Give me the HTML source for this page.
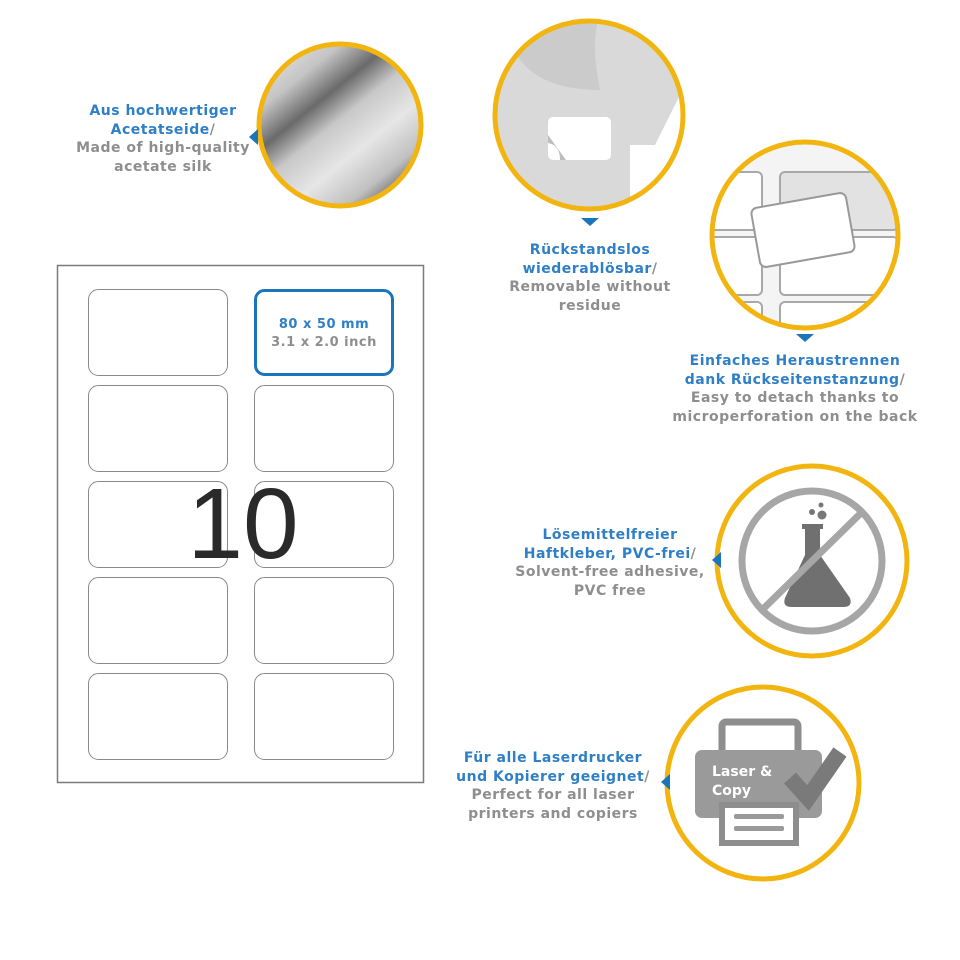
<!DOCTYPE html>
<html><head><meta charset="utf-8"><style>
html,body{margin:0;padding:0;background:#fff}
svg{display:block}
text{font-family:"DejaVu Sans","Liberation Sans",sans-serif;font-weight:bold;font-size:14px;letter-spacing:0.5px;text-anchor:middle}
.b{fill:#2f7fc6}.g{fill:#8e8e8e}
</style></head><body>
<svg width="960" height="960" viewBox="0 0 960 960" xmlns="http://www.w3.org/2000/svg">
<defs>
<linearGradient id="silk" x1="0.1" y1="0" x2="0.9" y2="1">
<stop offset="0" stop-color="#e8e8e8"/><stop offset="0.2" stop-color="#c4c4c4"/>
<stop offset="0.35" stop-color="#6a6a6a"/><stop offset="0.48" stop-color="#c8c8c8"/>
<stop offset="0.65" stop-color="#e6e6e6"/><stop offset="0.82" stop-color="#c0c0c0"/>
<stop offset="0.93" stop-color="#6a6a6a"/><stop offset="1" stop-color="#a0a0a0"/>
</linearGradient>
<clipPath id="c2"><circle cx="589" cy="115" r="94"/></clipPath>
<clipPath id="c3"><circle cx="805" cy="235" r="93"/></clipPath>
</defs>

<!-- circle 1 -->
<circle cx="340" cy="125" r="81" fill="url(#silk)" stroke="#f2b40f" stroke-width="5"/>
<polygon points="249,137 258,129 258,145" fill="#1b75bb"/>
<text class="b" x="163" y="115">Aus hochwertiger</text>
<text x="163" y="134"><tspan class="b">Acetatseide</tspan><tspan class="g">/</tspan></text>
<text class="g" x="163" y="152">Made of high-quality</text>
<text class="g" x="163" y="171">acetate silk</text>

<!-- circle 2 -->
<g clip-path="url(#c2)">
<rect x="490" y="15" width="200" height="200" fill="#fff"/>
<path d="M490,15 L690,15 L690,75 L655,145 L630,145 L630,215 L490,215 Z" fill="#d9d9d9"/>
<path d="M505,15 Q510,90 600,90 Q590,40 600,15 Z" fill="#cbcbcb"/>
<rect x="548" y="117" width="63" height="43" rx="5" fill="#fff"/>
<path d="M548,135 L548,143 Q560,145 560,160 L566,160 Z" fill="#bdbdbd"/>
</g>
<circle cx="589" cy="115" r="94" fill="none" stroke="#f2b40f" stroke-width="5"/>
<polygon points="581,218 599,218 590,226" fill="#1b75bb"/>
<text class="b" x="590" y="254">Rückstandslos</text>
<text x="590" y="273"><tspan class="b">wiederablösbar</tspan><tspan class="g">/</tspan></text>
<text class="g" x="590" y="291">Removable without</text>
<text class="g" x="590" y="310">residue</text>

<!-- circle 3 -->
<g clip-path="url(#c3)">
<rect x="705" y="135" width="200" height="200" fill="#f4f4f4"/>
<g fill="#fff" stroke="#a8a8a8" stroke-width="2">
<rect x="690" y="172" width="72" height="58" rx="5"/>
<rect x="780" y="172" width="118" height="58" rx="5" fill="#e2e2e2"/>
<rect x="690" y="237" width="72" height="58" rx="5"/>
<rect x="780" y="237" width="118" height="58" rx="5"/>
<rect x="690" y="302" width="72" height="58" rx="5"/>
<rect x="780" y="302" width="118" height="58" rx="5"/>
</g>
<rect x="755" y="200" width="96" height="60" rx="6" fill="#fff" stroke="#999" stroke-width="2" transform="rotate(-10 803 230)"/>
</g>
<circle cx="805" cy="235" r="93" fill="none" stroke="#f2b40f" stroke-width="5"/>
<polygon points="796,334 814,334 805,342" fill="#1b75bb"/>
<text class="b" x="795" y="365">Einfaches Heraustrennen</text>
<text x="795" y="384"><tspan class="b">dank Rückseitenstanzung</tspan><tspan class="g">/</tspan></text>
<text class="g" x="795" y="402">Easy to detach thanks to</text>
<text class="g" x="795" y="421">microperforation on the back</text>

<!-- circle 4 -->
<circle cx="812" cy="561" r="95" fill="#fff" stroke="#f2b40f" stroke-width="5"/>
<circle cx="812" cy="561" r="70" fill="none" stroke="#a6a6a6" stroke-width="7"/>
<circle cx="812" cy="512" r="3" fill="#777"/><circle cx="821" cy="505" r="2.5" fill="#777"/><circle cx="822" cy="515" r="4.5" fill="#777"/>
<path d="M805,528 L820,528 L820,555 L850,598 Q853,607 843,607 L792,607 Q782,607 785,598 L805,555 Z" fill="#707070"/>
<rect x="802" y="524" width="21" height="5" fill="#707070"/>
<line x1="762" y1="610" x2="862" y2="512" stroke="#a6a6a6" stroke-width="7"/>
<polygon points="712,560 721,552 721,568" fill="#1b75bb"/>
<text class="b" x="610" y="539">Lösemittelfreier</text>
<text x="610" y="558"><tspan class="b">Haftkleber, PVC-frei</tspan><tspan class="g">/</tspan></text>
<text class="g" x="610" y="576">Solvent-free adhesive,</text>
<text class="g" x="610" y="595">PVC free</text>

<!-- circle 5 -->
<circle cx="763" cy="783" r="96" fill="#fff" stroke="#f2b40f" stroke-width="5"/>
<rect x="722" y="722" width="76" height="40" rx="4" fill="#fff" stroke="#8e8e8e" stroke-width="7"/>
<rect x="695" y="750" width="127" height="68" rx="7" fill="#9a9a9a"/>
<rect x="722" y="805" width="74" height="38" fill="#fff" stroke="#8e8e8e" stroke-width="6"/>
<rect x="734" y="814" width="50" height="5" rx="2" fill="#9a9a9a"/><rect x="734" y="826" width="50" height="5" rx="2" fill="#9a9a9a"/>
<polyline points="790,778 808,798 840,752" fill="none" stroke="#7a7a7a" stroke-width="16" stroke-linejoin="miter"/>
<text x="712" y="776" style="fill:#fff;text-anchor:start;font-size:14px;letter-spacing:0">Laser &amp;</text>
<text x="712" y="795" style="fill:#fff;text-anchor:start;font-size:14px;letter-spacing:0">Copy</text>
<polygon points="661,782 670,774 670,790" fill="#1b75bb"/>
<text class="b" x="553" y="762">Für alle Laserdrucker</text>
<text x="553" y="781"><tspan class="b">und Kopierer geeignet</tspan><tspan class="g">/</tspan></text>
<text class="g" x="553" y="799">Perfect for all laser</text>
<text class="g" x="553" y="818">printers and copiers</text>

<!-- sheet -->
<rect x="57.5" y="265.5" width="366" height="517" fill="#fff" stroke="#7a7a7a" stroke-width="1.5"/>
<g fill="#fff" stroke="#8a8a8a" stroke-width="1">
<rect x="88.5" y="289.5" width="139" height="86" rx="10"/>
<rect x="88.5" y="385.5" width="139" height="86" rx="10"/>
<rect x="254.5" y="385.5" width="139" height="86" rx="10"/>
<rect x="88.5" y="481.5" width="139" height="86" rx="10"/>
<rect x="254.5" y="481.5" width="139" height="86" rx="10"/>
<rect x="88.5" y="577.5" width="139" height="86" rx="10"/>
<rect x="254.5" y="577.5" width="139" height="86" rx="10"/>
<rect x="88.5" y="673.5" width="139" height="86" rx="10"/>
<rect x="254.5" y="673.5" width="139" height="86" rx="10"/>
</g>
<rect x="255.5" y="290.5" width="137" height="84" rx="9" fill="#fff" stroke="#1b75bb" stroke-width="3"/>
<text class="b" x="324" y="328" style="font-size:13px">80 x 50 mm</text>
<text class="g" x="324" y="346" style="font-size:13px">3.1 x 2.0 inch</text>
<text x="243" y="558" style="font-family:'Liberation Sans',sans-serif;font-weight:normal;font-size:100px;letter-spacing:0;fill:#2a2a2a">10</text>
</svg>
</body></html>
